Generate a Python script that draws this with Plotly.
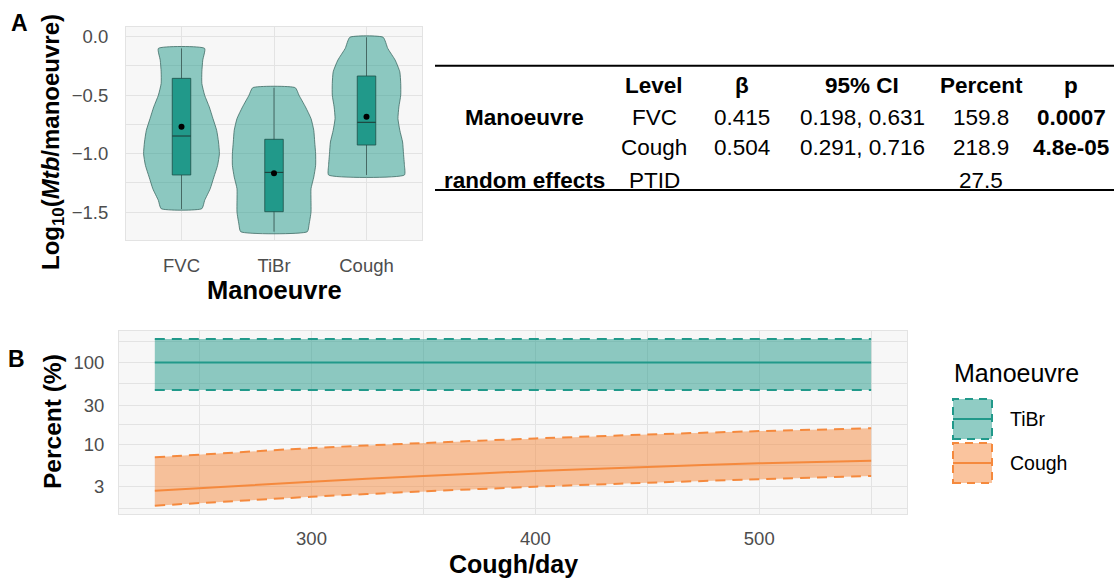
import plotly.graph_objects as go

W, H = 1114, 579
def px(x): return x / W
def py(y): return 1 - y / H

FONT = "Liberation Sans, Arial, Helvetica, sans-serif"
TEAL = "#21998A"
TEAL_FILL = "rgba(33,153,138,0.5)"
ORANGE = "#F5893D"
ORANGE_FILL = "rgba(245,137,61,0.5)"
TICK_GREY = "#4D4D4D"

# ---------------- Panel A data ----------------
categories = ["FVC", "TiBr", "Cough"]
cat_pos = [1, 2, 3]

fvc_violin_y = [-0.10, -0.2, -0.3, -0.4, -0.5, -0.6, -0.7, -0.8, -0.9, -1.0, -1.1, -1.2, -1.3, -1.4, -1.47]
fvc_violin_w = [0.25, 0.23, 0.22, 0.22, 0.25, 0.30, 0.34, 0.38, 0.40, 0.41, 0.39, 0.35, 0.31, 0.25, 0.22]
tibr_violin_y = [-0.436, -0.5, -0.6, -0.7, -0.8, -0.9, -1.0, -1.1, -1.2, -1.3, -1.4, -1.5, -1.6, -1.667]
tibr_violin_w = [0.23, 0.27, 0.34, 0.40, 0.43, 0.44, 0.45, 0.45, 0.43, 0.40, 0.40, 0.40, 0.38, 0.36]
cough_violin_y = [-0.005, -0.1, -0.2, -0.3, -0.4, -0.5, -0.6, -0.7, -0.8, -0.9, -1.0, -1.1, -1.182]
cough_violin_w = [0.18, 0.23, 0.31, 0.36, 0.37, 0.37, 0.35, 0.34, 0.36, 0.39, 0.40, 0.41, 0.41]

box_q1 = [-1.182, -1.496, -0.926]
box_q3 = [-0.356, -0.877, -0.336]
box_median = [-0.849, -1.160, -0.732]
box_mean = [-0.769, -1.168, -0.684]
whisker_lo = [-1.473, -1.667, -1.182]
whisker_hi = [-0.100, -0.436, -0.005]
box_half = 0.1

# ---------------- Panel B data ----------------
cough_day = [230, 300, 350, 400, 450, 500, 550]
cough_pct = [2.68, 3.46, 4.05, 4.68, 5.24, 5.81, 6.25]
cough_lo = [1.76, 2.26, 2.63, 3.00, 3.36, 3.70, 4.06]
cough_hi = [6.87, 8.93, 10.3, 11.7, 13.1, 14.4, 15.6]
tibr_day = [230, 550]
tibr_pct = [100, 100]
tibr_lo = [45.8, 45.8]
tibr_hi = [193, 193]

# ---------------- Table data ----------------
tbl_header = ["Level", "β", "95% CI", "Percent", "p"]
tbl_rowlabels = ["Manoeuvre", "", "random effects"]
tbl_level = ["FVC", "Cough", "PTID"]
tbl_beta = ["0.415", "0.504", ""]
tbl_ci = ["0.198, 0.631", "0.291, 0.716", ""]
tbl_percent = ["159.8", "218.9", "27.5"]
tbl_p = ["0.0007", "4.8e-05", ""]

fig = go.Figure()

# violins
violins = [(fvc_violin_y, fvc_violin_w), (tibr_violin_y, tibr_violin_w), (cough_violin_y, cough_violin_w)]
for c, (vy, vw) in zip(cat_pos, violins):
    xs = [c + w for w in vw] + [c - w for w in reversed(vw)] + [c + vw[0]]
    ys = list(vy) + list(reversed(vy)) + [vy[0]]
    fig.add_trace(go.Scatter(x=xs, y=ys, mode="lines", fill="toself", fillcolor=TEAL_FILL,
                             line=dict(color="#3F6B65", width=0.8, shape="spline", smoothing=0.5),
                             xaxis="x", yaxis="y", hoverinfo="skip", showlegend=False))
# whiskers
for i, c in enumerate(cat_pos):
    fig.add_trace(go.Scatter(x=[c, c], y=[whisker_lo[i], whisker_hi[i]], mode="lines",
                             line=dict(color="#3F5F5A", width=0.9),
                             xaxis="x", yaxis="y", hoverinfo="skip", showlegend=False))
# boxes
for i, c in enumerate(cat_pos):
    fig.add_trace(go.Scatter(x=[c - box_half, c + box_half, c + box_half, c - box_half, c - box_half],
                             y=[box_q1[i], box_q1[i], box_q3[i], box_q3[i], box_q1[i]],
                             mode="lines", fill="toself", fillcolor=TEAL,
                             line=dict(color="#1E4F48", width=0.8),
                             xaxis="x", yaxis="y", hoverinfo="skip", showlegend=False))
    fig.add_trace(go.Scatter(x=[c - box_half, c + box_half], y=[box_median[i], box_median[i]],
                             mode="lines", line=dict(color="#1E3F3A", width=1.1),
                             xaxis="x", yaxis="y", hoverinfo="skip", showlegend=False))
fig.add_trace(go.Scatter(x=cat_pos, y=box_mean, mode="markers",
                         marker=dict(color="black", size=6),
                         xaxis="x", yaxis="y", hoverinfo="skip", showlegend=False))

# Panel B bands
def band(xv, lo, hi, mid, col, fillcol):
    fig.add_trace(go.Scatter(x=list(xv) + list(reversed(xv)) + [xv[0]],
                             y=list(hi) + list(reversed(lo)) + [hi[0]],
                             mode="lines", fill="toself", fillcolor=fillcol,
                             line=dict(width=0), xaxis="x2", yaxis="y2",
                             hoverinfo="skip", showlegend=False))
    for arr in (hi, lo):
        fig.add_trace(go.Scatter(x=xv, y=arr, mode="lines",
                                 line=dict(color=col, width=2, dash="10px,7px", shape="spline", smoothing=0.6),
                                 xaxis="x2", yaxis="y2", hoverinfo="skip", showlegend=False))
    fig.add_trace(go.Scatter(x=xv, y=mid, mode="lines",
                             line=dict(color=col, width=2, shape="spline", smoothing=0.6),
                             xaxis="x2", yaxis="y2", hoverinfo="skip", showlegend=False))

band(tibr_day, tibr_lo, tibr_hi, tibr_pct, TEAL, TEAL_FILL)
band(cough_day, cough_lo, cough_hi, cough_pct, ORANGE, ORANGE_FILL)

GRID = "#E3E3E3"
BG = "#F7F7F7"
common_axis = dict(showline=True, mirror=True, linecolor=GRID, linewidth=1, zeroline=False,
                   ticks="", tickfont=dict(family=FONT, size=18.5, color=TICK_GREY),
                   gridcolor=GRID, gridwidth=1.3)

fig.update_layout(
    width=W, height=H, margin=dict(l=0, r=0, t=0, b=0),
    paper_bgcolor="white", plot_bgcolor=BG, showlegend=False,
    font=dict(family=FONT, color="black"),
    xaxis=dict(domain=[px(126), px(422)], range=[0.4, 3.6], tickmode="array", tickvals=cat_pos,
               ticktext=categories, anchor="y", ticklabelstandoff=9, **common_axis),
    yaxis=dict(domain=[py(240), py(27)], range=[-1.738, 0.083], tickmode="array",
               tickvals=[0, -0.5, -1.0, -1.5], ticktext=["0.0", "\u22120.5", "\u22121.0", "\u22121.5"],
               anchor="x", ticklabelstandoff=13,
               minor=dict(tickmode="array", tickvals=[-0.25, -0.75, -1.25], showgrid=True,
                          gridcolor=GRID, gridwidth=0.7),
               **common_axis),
    xaxis2=dict(domain=[px(119), px(907)], range=[214, 566], tickmode="array",
                tickvals=[300, 400, 500], ticktext=["300", "400", "500"], anchor="y2",
                ticklabelstandoff=8,
                minor=dict(tickmode="array", tickvals=[250, 350, 450, 550], showgrid=True,
                           gridcolor=GRID, gridwidth=0.7),
                **common_axis),
    yaxis2=dict(domain=[py(514), py(331)], type="log", range=[0.143, 2.385], tickmode="array",
                tickvals=[3, 10, 30, 100], ticktext=["3", "10", "30", "100"], anchor="x2",
                ticklabelstandoff=10,
                minor=dict(tickmode="array", tickvals=[1.64, 5.48, 17.3, 54.8, 182.6], showgrid=True,
                           gridcolor=GRID, gridwidth=0.7),
                **common_axis),
)

ann = []
def text(x, y, s, size, anchor="center", color="black", angle=0):
    ann.append(dict(x=px(x), y=py(y), xref="paper", yref="paper", text=s, showarrow=False,
                    xanchor=anchor, yanchor="middle", textangle=angle,
                    font=dict(family=FONT, size=size, color=color)))

# panel labels and axis titles
text(19, 23, "<b>A</b>", 23)
text(16, 359, "<b>B</b>", 23)
text(52, 142, "<b>Log<sub>10</sub>(<i>Mtb</i>/manoeuvre)</b>", 24)
ann[-1]["textangle"] = -90
text(274, 290, "<b>Manoeuvre</b>", 25.5)
text(52, 422, "<b>Percent (%)</b>", 24.5, angle=-90)
text(513, 564, "<b>Cough/day</b>", 25)

# legend
text(952, 373, "Manoeuvre", 25, anchor="left")
text(1008, 419, "TiBr", 19.5, anchor="left")
text(1008, 463, "Cough", 19.5, anchor="left")

# table
col_x = [654, 742, 862, 981, 1071]
row_y = [117, 147.5, 180]
TS = 22.5
for cx, h in zip(col_x, tbl_header):
    text(cx, 85.5, f"<b>{h}</b>", TS)
for r in range(3):
    if tbl_rowlabels[r]:
        text(524, row_y[r], f"<b>{tbl_rowlabels[r]}</b>", TS)
    vals = [tbl_level[r], tbl_beta[r], tbl_ci[r], tbl_percent[r]]
    for cx, v in zip(col_x[:4], vals):
        if v:
            text(cx, row_y[r], v, TS)
    if tbl_p[r]:
        text(col_x[4], row_y[r], f"<b>{tbl_p[r]}</b>", TS)

fig.update_layout(annotations=ann)

shapes = [
    dict(type="line", xref="paper", yref="paper", x0=px(435), x1=px(1114), y0=py(65.7), y1=py(65.7),
         line=dict(color="black", width=2)),
    dict(type="line", xref="paper", yref="paper", x0=px(435), x1=px(1114), y0=py(190), y1=py(190),
         line=dict(color="black", width=2)),
]
# legend keys
for (y0, y1, col, fc) in [(399, 439, TEAL, TEAL_FILL), (443, 483, ORANGE, ORANGE_FILL)]:
    shapes.append(dict(type="rect", xref="paper", yref="paper", x0=px(953), x1=px(992),
                       y0=py(y1), y1=py(y0), fillcolor=fc,
                       line=dict(color=col, width=2, dash="8px,6px")))
    ym = (y0 + y1) / 2
    shapes.append(dict(type="line", xref="paper", yref="paper", x0=px(953), x1=px(992),
                       y0=py(ym), y1=py(ym), line=dict(color=col, width=2)))
fig.update_layout(shapes=shapes)

fig.write_html("out.html")
